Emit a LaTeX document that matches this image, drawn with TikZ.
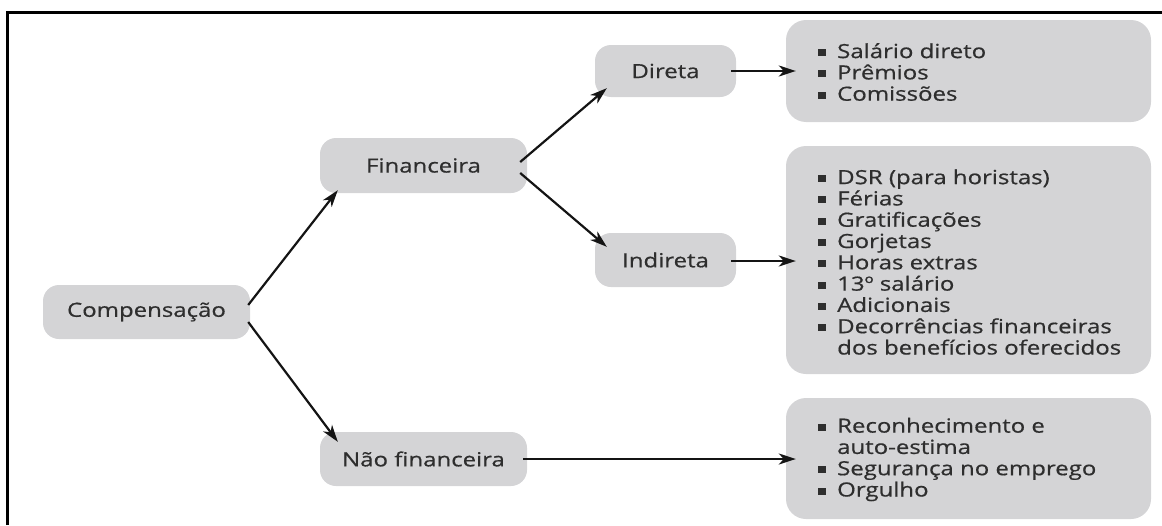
\documentclass[tikz,border=0pt]{standalone}
\usepackage{fontspec}
\setmainfont{Open Sans}[FakeStretch=1.23,FakeBold=0.6]
\usetikzlibrary{arrows.meta,calc}
\definecolor{boxgray}{HTML}{D4D4D6}
\definecolor{txtgray}{HTML}{2E2E2E}
\newcommand\bitem{\rule[2pt]{8pt}{7pt}\hspace{11pt}}
\newcommand\bcont{\hspace*{19pt}}
\tikzset{
  nb/.style={fill=boxgray, rounded corners=16pt, inner sep=0pt, text=txtgray,
    font=\fontsize{19.5}{21.3}\selectfont},
  listbox/.style={fill=boxgray, rounded corners=20pt, inner sep=0pt, minimum width=365pt},
  listtxt/.style={anchor=west, align=left, inner sep=0pt, text=txtgray,
    font=\fontsize{19.5}{21.3}\selectfont},
  arr/.style={line width=2.2pt, -{Stealth[length=17pt,width=11pt,inset=5pt]}, color=black!92},
  frame/.style={line width=3pt}
}
\begin{document}
\begin{tikzpicture}[x=1pt,y=-1pt]
\useasboundingbox (0,0) rectangle (1162,525);
\coordinate (fa) at (7,525);
\coordinate (fb) at (7,12);
\coordinate (fc) at (1162,12);
\draw[frame] (fa) -- (fb) -- (fc);

\node[nb, minimum width=207pt, minimum height=54pt] (comp) at (146.5,312) {Compensação};
\node[nb, minimum width=207pt, minimum height=55pt] (fin) at (423.5,165.5) {Financeira};
\node[nb, minimum width=207pt, minimum height=54pt] (nf) at (423.5,459) {Não financeira};
\node[nb, minimum width=141pt, minimum height=52pt] (dir) at (665.5,71) {Direta};
\node[nb, minimum width=141pt, minimum height=54pt] (ind) at (665.5,260) {Indireta};

\node[listbox, minimum height=102pt] (b1) at (968.5,71) {};
\node[listbox, minimum height=228pt] (b2) at (968.5,260) {};
\node[listbox, minimum height=121pt] (b3) at (968.5,458.5) {};

\node[listtxt] (t1) at (818,72) {\bitem Salário direto\\ \bitem Prêmios\\ \bitem Comissões};
\node[listtxt] (t2) at (818,262) {\bitem DSR (para horistas)\\ \bitem Férias\\ \bitem Gratificações\\ \bitem Gorjetas\\ \bitem Horas extras\\ \bitem 13º salário\\ \bitem Adicionais\\ \bitem Decorrências financeiras\\ \bcont dos benefícios oferecidos};
\node[listtxt] (t3) at (818,459.5) {\bitem Reconhecimento e\\ \bcont auto-estima\\ \bitem Segurança no emprego\\ \bitem Orgulho};

\draw[arr] ($(comp.east)+(-2,-7)$) -- ($(fin.south west)+(18,-3)$);
\draw[arr] ($(comp.east)+(-2,10)$) -- ($(nf.north west)+(18,10)$);
\draw[arr] ($(fin.east)+(-7,-3.5)$) -- ($(dir.south west)+(12,-9)$);
\draw[arr] ($(fin.east)+(-7,7.5)$) -- ($(ind.north west)+(12,14)$);
\draw[arr] ($(dir.east)+(-5,0)$) -- ($(b1.west)+(10,0)$);
\draw[arr] ($(ind.east)+(-5,1)$) -- ($(b2.west)+(10,1)$);
\draw[arr] ($(nf.east)+(-4,0)$) -- ($(b3.west)+(10,0.5)$);
\end{tikzpicture}
\end{document}
